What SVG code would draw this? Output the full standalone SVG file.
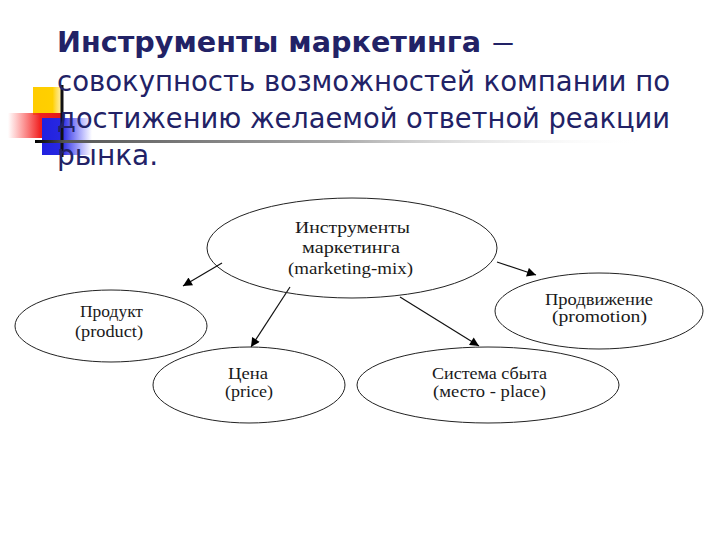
<svg xmlns="http://www.w3.org/2000/svg" width="720" height="540" viewBox="0 0 720 540">
<defs>
<linearGradient id="gRed" x1="0" y1="0" x2="1" y2="0">
<stop offset="0" stop-color="#ff3030" stop-opacity="0"/>
<stop offset="0.6" stop-color="#f02020"/>
<stop offset="1" stop-color="#e01818"/>
</linearGradient>
<linearGradient id="gBlue" x1="0" y1="0" x2="1" y2="0">
<stop offset="0" stop-color="#2020e0"/>
<stop offset="0.4" stop-color="#2828e0"/>
<stop offset="1" stop-color="#3030ff" stop-opacity="0"/>
</linearGradient>
<linearGradient id="gYel" x1="0" y1="0" x2="1" y2="0">
<stop offset="0" stop-color="#ffcc00"/>
<stop offset="0.7" stop-color="#ffd000"/>
<stop offset="1" stop-color="#ffe060" stop-opacity="0.6"/>
</linearGradient>
<linearGradient id="gLine" x1="0" y1="0" x2="1" y2="0">
<stop offset="0" stop-color="#000000"/>
<stop offset="0.05" stop-color="#555555"/>
<stop offset="0.5" stop-color="#aaaaaa"/>
<stop offset="1" stop-color="#ffffff" stop-opacity="0"/>
</linearGradient>
<marker id="arr" viewBox="0 0 10 10" refX="10" refY="5" markerWidth="10" markerHeight="9" markerUnits="userSpaceOnUse" orient="auto">
<path d="M0,0 L10,5 L0,10 Z" fill="#000"/>
</marker>
<style>
.title{font-family:"DejaVu Sans",Verdana,sans-serif;font-size:28px;fill:#222266}
.node ellipse{fill:none;stroke:#222;stroke-width:1}
.node text{font-family:"Liberation Serif","Times New Roman",serif;font-size:16px;fill:#1a1a1a}
.conn line{stroke:#111;stroke-width:1.2;marker-end:url(#arr)}
</style>
</defs>
<rect width="720" height="540" fill="#ffffff"/>
<g id="bullet">
<rect x="33" y="87" width="28" height="28" fill="url(#gYel)"/>
<rect x="8" y="113" width="54" height="25" fill="url(#gRed)"/>
<rect x="42" y="118" width="50" height="37" fill="url(#gBlue)"/>
<line x1="62" y1="85" x2="62" y2="157" stroke="#111" stroke-width="3"/>
<rect x="35" y="140" width="610" height="3" fill="url(#gLine)"/>
</g>
<g id="heading">
<text class="title" x="57" y="52" font-weight="bold" textLength="424" lengthAdjust="spacingAndGlyphs">Инструменты маркетинга</text>
<text class="title" x="491" y="52" textLength="24" lengthAdjust="spacingAndGlyphs">–</text>
<text class="title" x="57" y="91" textLength="613" lengthAdjust="spacingAndGlyphs">совокупность возможностей компании по</text>
<text class="title" x="57" y="128" textLength="613" lengthAdjust="spacingAndGlyphs">достижению желаемой ответной реакции</text>
<text class="title" x="57" y="165">рынка.</text>
</g>
<g id="connectors" class="conn">
<line x1="222" y1="263" x2="183" y2="286"/>
<line x1="290" y1="287" x2="251" y2="347"/>
<line x1="400" y1="297" x2="479" y2="346"/>
<line x1="497" y1="262" x2="536" y2="275"/>
</g>
<g id="mix" class="node">
<ellipse cx="352" cy="248" rx="145" ry="50"/>
<text x="295" y="233" textLength="115" lengthAdjust="spacingAndGlyphs">Инструменты</text>
<text x="302" y="253" textLength="98" lengthAdjust="spacingAndGlyphs">маркетинга</text>
<text x="288" y="274" textLength="125" lengthAdjust="spacingAndGlyphs">(marketing-mix)</text>
</g>
<g id="product" class="node">
<ellipse cx="111" cy="326" rx="96" ry="36"/>
<text x="80" y="317" textLength="63" lengthAdjust="spacingAndGlyphs">Продукт</text>
<text x="75" y="337" textLength="68" lengthAdjust="spacingAndGlyphs">(product)</text>
</g>
<g id="price" class="node">
<ellipse cx="249" cy="385" rx="96" ry="38"/>
<text x="228" y="379" textLength="40" lengthAdjust="spacingAndGlyphs">Цена</text>
<text x="225" y="397" textLength="48" lengthAdjust="spacingAndGlyphs">(price)</text>
</g>
<g id="place" class="node">
<ellipse cx="488" cy="385" rx="131" ry="38"/>
<text x="432" y="379" textLength="115" lengthAdjust="spacingAndGlyphs">Система сбыта</text>
<text x="433" y="397" textLength="113" lengthAdjust="spacingAndGlyphs">(место - place)</text>
</g>
<g id="promotion" class="node">
<ellipse cx="599" cy="311" rx="104" ry="38"/>
<text x="545" y="305" textLength="108" lengthAdjust="spacingAndGlyphs">Продвижение</text>
<text x="552" y="322" textLength="95" lengthAdjust="spacingAndGlyphs">(promotion)</text>
</g>
</svg>
